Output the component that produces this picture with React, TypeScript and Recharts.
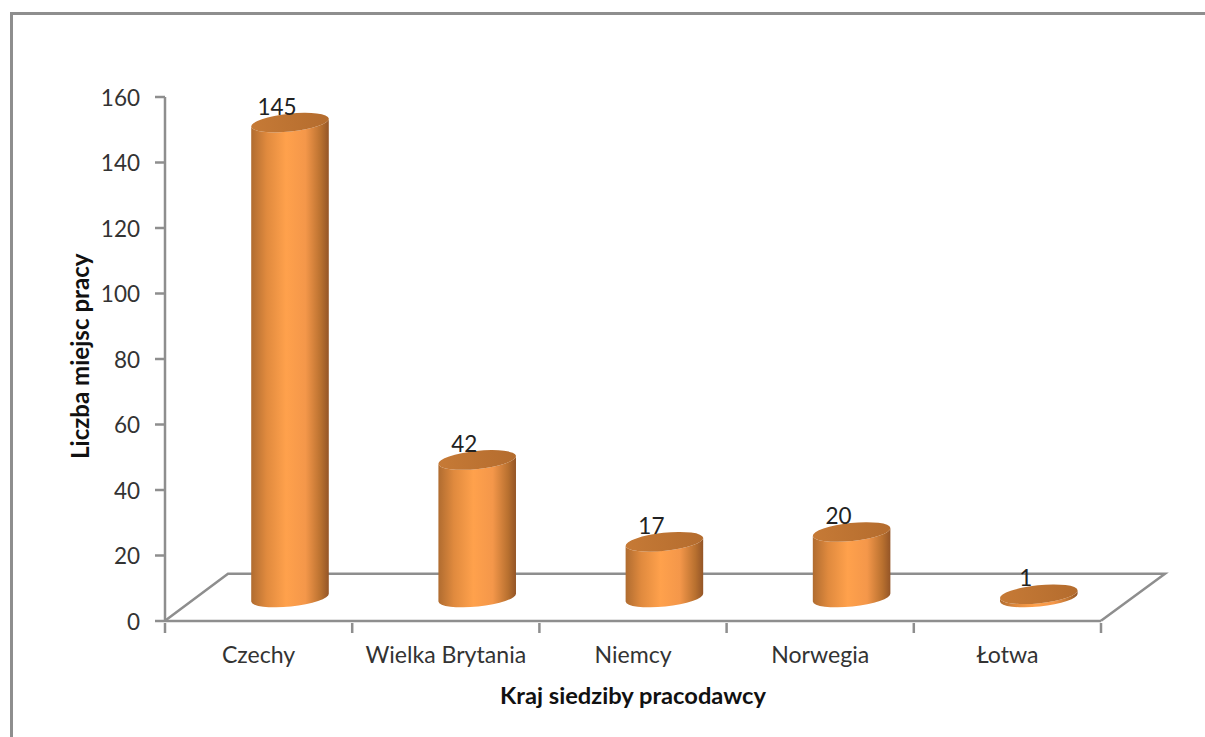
import { ComposedChart, Bar, XAxis, YAxis, Label, ReferenceLine } from 'recharts'

const categories = ['Czechy', 'Wielka Brytania', 'Niemcy', 'Norwegia', 'Łotwa']
const jobs = [145, 42, 17, 20, 1]
const yTicks = [0, 20, 40, 60, 80, 100, 120, 140, 160]
const floorBackValue = 14.4

const data = categories.map((name, i) => ({ name, jobs: jobs[i] }))

const W = 1205
const H = 737
const LEFT = 165
const RIGHT = 104
const STEP = (W - LEFT - RIGHT) / categories.length

// fake 3d depth of the chart floor
const DEPTH_X = 31
const DEPTH_Y = 23.5
const TILT = -6
const GREY = '#8e8e8e'
const FONT = 'Lato, "Open Sans", sans-serif'

const Cylinder = ({ x, y, width, height }: any) => {
  const rx = width / 2
  const ry = 9
  const cx = x + rx + DEPTH_X
  const top = y - DEPTH_Y
  const bottom = y + height - DEPTH_Y
  const dx = rx * Math.cos((TILT * Math.PI) / 180)
  const dy = rx * Math.sin((TILT * Math.PI) / 180)
  const body = `M${cx - dx} ${top - dy} L${cx - dx} ${bottom - dy} A${rx} ${ry} ${TILT} 0 0 ${cx + dx} ${bottom + dy} L${cx + dx} ${top + dy} A${rx} ${ry} ${TILT} 0 1 ${cx - dx} ${top - dy} Z`
  return (
    <g>
      <path d={body} fill="url(#cylBody)" />
      <ellipse cx={cx} cy={top} rx={rx} ry={ry} fill="url(#cylTop)" transform={`rotate(${TILT} ${cx} ${top})`} />
    </g>
  )
}

const CylinderLabel = ({ x, y, width, value }: any) => (
  <text x={x + width / 2 + 18} y={y - 40} textAnchor="middle" dominantBaseline="central" fontFamily={FONT} fontSize={22.5} fill="#222">
    {value}
  </text>
)

const Floor = ({ x1, x2, y1 }: any) => (
  <path
    d={`M${x1} ${y1 + 47} L${x1 + 63} ${y1} L${x2 + 64} ${y1} L${x2} ${y1 + 47}`}
    fill="none"
    stroke={GREY}
    strokeWidth={2.5}
  />
)

const CategoryTick = ({ x, y, payload, index }: any) => (
  <g>
    <line x1={x - STEP / 2} x2={x - STEP / 2} y1={y - 10} y2={y} stroke={GREY} strokeWidth={2.5} />
    {index === categories.length - 1 && (
      <line x1={x + STEP / 2} x2={x + STEP / 2} y1={y - 10} y2={y} stroke={GREY} strokeWidth={2.5} />
    )}
    <text x={x} y={y + 21} textAnchor="middle" dominantBaseline="central" fontFamily={FONT} fontSize={23.1} fill="#333">
      {payload.value}
    </text>
  </g>
)

const App = () => {
  return (
    <div style={{ position: 'absolute', left: 0, top: 0, width: W, height: H, background: '#fff', overflow: 'hidden' }}>
      <div style={{ position: 'absolute', left: 10, top: 12, width: W, height: H, borderLeft: `3px solid ${GREY}`, borderTop: `3px solid ${GREY}` }} />
      <ComposedChart
        width={W}
        height={H}
        data={data}
        margin={{ top: 97, right: RIGHT, bottom: 0, left: 0 }}
        style={{ position: 'absolute', left: 0, top: 0 }}
      >
        <defs>
          <linearGradient id="cylBody" x1="0" y1="0" x2="1" y2="0">
            <stop offset="0" stopColor="#b06c30" />
            <stop offset="0.2" stopColor="#e08a3e" />
            <stop offset="0.45" stopColor="#ffa14c" />
            <stop offset="0.7" stopColor="#f4974a" />
            <stop offset="0.9" stopColor="#b8702f" />
            <stop offset="1" stopColor="#945527" />
          </linearGradient>
          <linearGradient id="cylTop" x1="0" y1="0" x2="1" y2="0">
            <stop offset="0" stopColor="#c67a36" />
            <stop offset="1" stopColor="#b46c2e" />
          </linearGradient>
        </defs>
        <XAxis
          dataKey="name"
          height={116}
          interval={0}
          tick={<CategoryTick />}
          tickLine={false}
          tickSize={10}
          axisLine={{ stroke: GREY, strokeWidth: 2.5 }}
        >
          <Label value="Kraj siedziby pracodawcy" position="insideBottom" offset={33} fontFamily={FONT} fontSize={23.7} fontWeight={700} fill="#111" />
        </XAxis>
        <YAxis
          width={LEFT}
          domain={[0, 160]}
          ticks={yTicks}
          tickSize={10}
          tickMargin={15}
          tick={{ fontFamily: FONT, fontSize: 22.5, fill: '#333', dy: 1 }}
          tickLine={{ stroke: GREY, strokeWidth: 2.5 }}
          axisLine={{ stroke: GREY, strokeWidth: 2.5 }}
        >
          <Label value="Liczba miejsc pracy" angle={-90} position="insideLeft" offset={80} dy={100} fontFamily={FONT} fontSize={24.1} fontWeight={700} fill="#111" />
        </YAxis>
        <ReferenceLine y={floorBackValue} ifOverflow="visible" zIndex={100} shape={<Floor />} />
        <Bar dataKey="jobs" barSize={78} isAnimationActive={false} shape={<Cylinder />} label={<CylinderLabel />} />
      </ComposedChart>
    </div>
  )
}

export default App
